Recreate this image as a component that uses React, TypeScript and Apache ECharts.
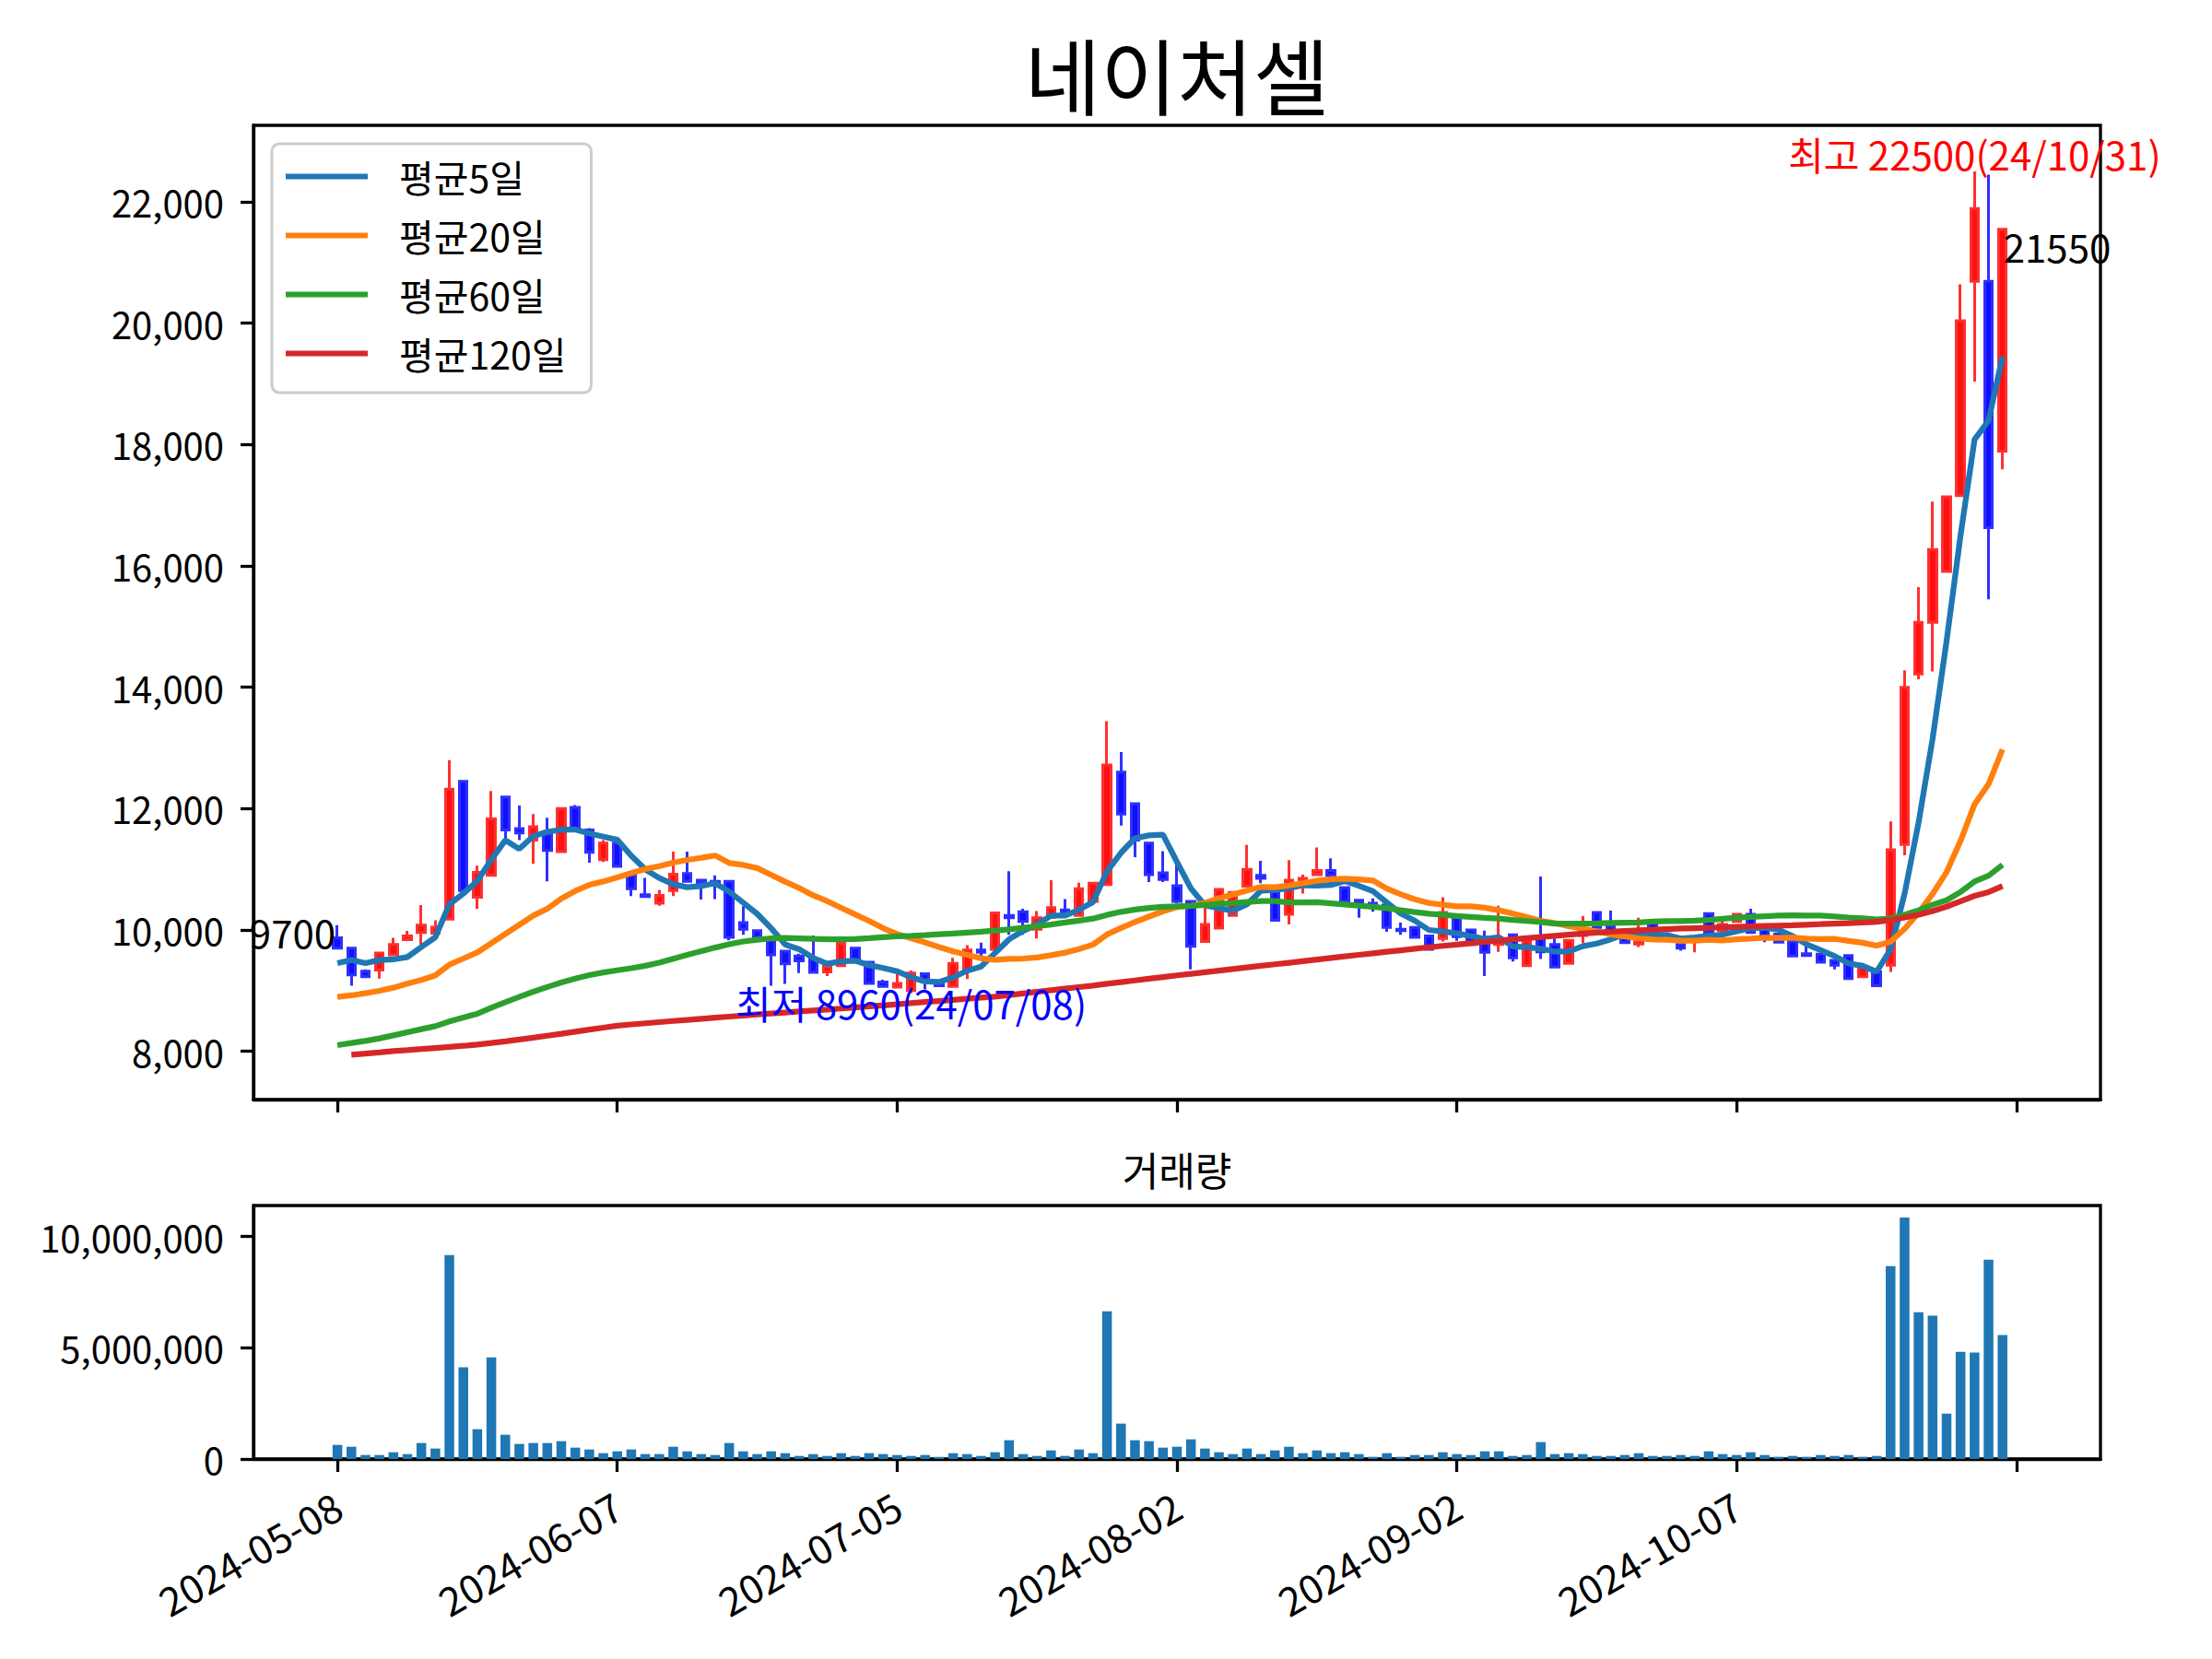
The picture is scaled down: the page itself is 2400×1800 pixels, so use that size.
import React, { useEffect, useRef } from 'react';
import * as echarts from 'echarts';

const dates = [
  '2024-05-08','2024-05-09','2024-05-10','2024-05-13','2024-05-14','2024-05-16','2024-05-17','2024-05-20','2024-05-21','2024-05-22',
  '2024-05-23','2024-05-24','2024-05-27','2024-05-28','2024-05-29','2024-05-30','2024-05-31','2024-06-03','2024-06-04','2024-06-05',
  '2024-06-07','2024-06-10','2024-06-11','2024-06-12','2024-06-13','2024-06-14','2024-06-17','2024-06-18','2024-06-19','2024-06-20',
  '2024-06-21','2024-06-24','2024-06-25','2024-06-26','2024-06-27','2024-06-28','2024-07-01','2024-07-02','2024-07-03','2024-07-04',
  '2024-07-05','2024-07-08','2024-07-09','2024-07-10','2024-07-11','2024-07-12','2024-07-15','2024-07-16','2024-07-17','2024-07-18',
  '2024-07-19','2024-07-22','2024-07-23','2024-07-24','2024-07-25','2024-07-26','2024-07-29','2024-07-30','2024-07-31','2024-08-01',
  '2024-08-02','2024-08-05','2024-08-06','2024-08-07','2024-08-08','2024-08-09','2024-08-12','2024-08-13','2024-08-14','2024-08-16',
  '2024-08-19','2024-08-20','2024-08-21','2024-08-22','2024-08-23','2024-08-26','2024-08-27','2024-08-28','2024-08-29','2024-08-30',
  '2024-09-02','2024-09-03','2024-09-04','2024-09-05','2024-09-06','2024-09-09','2024-09-10','2024-09-11','2024-09-12','2024-09-13',
  '2024-09-19','2024-09-20','2024-09-23','2024-09-24','2024-09-25','2024-09-26','2024-09-27','2024-09-30','2024-10-02','2024-10-04',
  '2024-10-07','2024-10-08','2024-10-10','2024-10-11','2024-10-14','2024-10-15','2024-10-16','2024-10-17','2024-10-18','2024-10-21',
  '2024-10-22','2024-10-23','2024-10-24','2024-10-25','2024-10-28','2024-10-29','2024-10-30','2024-10-31','2024-11-01','2024-11-04',
];

const opens = [
  9870, 9700, 9320, 9340, 9590, 9840, 9960, 9945, 10180, 12450,
  10540, 10900, 12190, 11670, 11480, 11580, 11290, 12020, 11650, 11160,
  11430, 10900, 10580, 10440, 10650, 10930, 10820, 10800, 10800, 10120,
  9990, 9830, 9650, 9570, 9530, 9310, 9410, 9700, 9470, 9140,
  9060, 9000, 9280, 9150, 9070, 9350, 9670, 9680, 10240, 10300,
  10010, 10210, 10330, 10240, 10470, 10750, 12600, 12080, 11430, 10940,
  10730, 10470, 9810, 10030, 10240, 10720, 10900, 10640, 10260, 10800,
  10910, 10980, 10700, 10490, 10440, 10410, 10010, 10040, 9900, 9860,
  10200, 10000, 9880, 9760, 9920, 9410, 9860, 9760, 9450, 9910,
  10290, 10060, 9910, 9770, 10110, 10030, 9760, 9830, 10270, 9990,
  10140, 10260, 10010, 9930, 9810, 9610, 9600, 9500, 9580, 9230,
  9310, 9420, 11410, 14220, 15070, 15910, 17160, 20690, 20690, 17890,
];

const closes = [
  9700, 9260, 9230, 9620, 9760, 9900, 10080, 10045, 12320, 10650,
  10950, 11830, 11650, 11600, 11700, 11310, 12000, 11670, 11280, 11430,
  11050, 10680, 10550, 10570, 10920, 10800, 10780, 10780, 9880, 10010,
  9880, 9590, 9440, 9490, 9300, 9400, 9780, 9500, 9120, 9070,
  9120, 9290, 9150, 9080, 9450, 9670, 9630, 10280, 10200, 10140,
  10200, 10370, 10280, 10680, 10770, 12720, 11910, 11480, 10910, 10830,
  10470, 9730, 10090, 10670, 10620, 11000, 10850, 10160, 10820, 10850,
  10980, 10900, 10470, 10440, 10410, 10040, 9990, 9880, 9680, 10290,
  9890, 9760, 9630, 9830, 9540, 9820, 9640, 9390, 9830, 9980,
  10040, 9990, 9790, 9820, 9990, 9990, 9700, 9880, 9960, 10090,
  10260, 9960, 9910, 9800, 9570, 9580, 9470, 9420, 9200, 9380,
  9080, 11320, 14000, 15070, 16270, 17140, 20040, 21890, 16630, 21550,
];

const lows = [
  9690, 9080, 9210, 9200, 9580, 9830, 9760, 9935, 10160, 10650,
  10350, 10890, 11500, 11480, 11090, 10800, 11280, 11660, 11110, 11120,
  11040, 10560, 10550, 10400, 10560, 10790, 10500, 10510, 9830, 9920,
  9880, 9080, 9110, 9290, 9300, 9240, 9410, 9500, 9120, 9060,
  9050, 8960, 9020, 9080, 9070, 9190, 9540, 9680, 9920, 9920,
  9860, 10200, 10270, 10230, 10460, 10750, 11720, 11200, 10790, 10790,
  10440, 9350, 9800, 10020, 10230, 10700, 10770, 10160, 10090, 10600,
  10900, 10890, 10460, 10200, 10300, 9970, 9920, 9880, 9680, 9810,
  9820, 9760, 9240, 9640, 9480, 9410, 9520, 9390, 9450, 9780,
  10040, 9980, 9790, 9720, 9990, 9980, 9660, 9630, 9920, 9940,
  10130, 9950, 9800, 9800, 9570, 9570, 9470, 9350, 9200, 9220,
  9080, 9310, 11230, 14130, 14260, 15900, 17160, 19040, 15450, 17590,
];

const highs = [
  10080, 9720, 9350, 9630, 9870, 9985, 10410, 10160, 12800, 12460,
  11060, 12290, 12200, 12050, 11910, 11850, 12010, 12060, 11680, 11480,
  11440, 10900, 10860, 10660, 11290, 11290, 10830, 10900, 10800, 10390,
  9990, 9840, 9650, 9610, 9910, 9410, 9790, 9720, 9470, 9180,
  9270, 9330, 9300, 9150, 9540, 9750, 9790, 10290, 10970, 10350,
  10310, 10820, 10510, 10780, 10780, 13440, 12930, 12080, 11430, 11300,
  11100, 10470, 10490, 10680, 10640, 11400, 11140, 10650, 11150, 10910,
  11360, 11180, 10700, 10500, 10520, 10420, 10120, 10060, 9900, 10540,
  10200, 10000, 9990, 10400, 9930, 9820, 10880, 9860, 9830, 10230,
  10290, 10320, 9910, 10200, 10110, 10040, 9760, 9890, 10280, 10210,
  10270, 10350, 10010, 9930, 9810, 9760, 9600, 9510, 9580, 9390,
  9310, 11790, 14280, 15650, 17060, 17140, 20640, 22500, 22450, 21560,
];

const volumes = [
  635000, 552000, 180000, 180000, 304000, 221000, 718000, 470000, 9170000, 4120000,
  1340000, 4570000, 1090000, 677000, 718000, 718000, 801000, 511000, 428000, 262000,
  345000, 428000, 221000, 221000, 552000, 345000, 221000, 180000, 718000, 345000,
  221000, 345000, 262000, 138000, 221000, 138000, 262000, 138000, 262000, 221000,
  180000, 138000, 180000, 97000, 262000, 221000, 138000, 304000, 843000, 221000,
  138000, 387000, 138000, 428000, 262000, 6640000, 1590000, 843000, 801000, 511000,
  552000, 884000, 470000, 304000, 221000, 470000, 221000, 387000, 552000, 262000,
  387000, 262000, 304000, 221000, 97000, 262000, 97000, 180000, 180000, 304000,
  221000, 180000, 345000, 345000, 138000, 180000, 760000, 221000, 262000, 221000,
  138000, 138000, 180000, 262000, 138000, 138000, 180000, 138000, 345000, 221000,
  180000, 304000, 180000, 97000, 138000, 97000, 180000, 138000, 180000, 97000,
  138000, 8670000, 10850000, 6600000, 6440000, 2040000, 4820000, 4780000, 8960000, 5570000,
];

const ma5 = [
  9453, 9504, 9453, 9504, 9514, 9554, 9718, 9881, 10421, 10599,
  10809, 11159, 11480, 11336, 11546, 11618, 11652, 11656, 11592, 11538,
  11486, 11222, 10998, 10856, 10754, 10704, 10724, 10770, 10632, 10450,
  10266, 10028, 9760, 9682, 9540, 9444, 9482, 9494, 9420, 9374,
  9318, 9220, 9150, 9142, 9218, 9328, 9396, 9622, 9846, 9984,
  10090, 10238, 10238, 10334, 10460, 10964, 11272, 11512, 11558, 11570,
  11120, 10684, 10406, 10358, 10316, 10422, 10646, 10660, 10690, 10736,
  10732, 10742, 10804, 10728, 10640, 10452, 10270, 10152, 10000, 9976,
  9946, 9900, 9850, 9880, 9730, 9716, 9692, 9644, 9644, 9732,
  9776, 9846, 9926, 9924, 9926, 9916, 9858, 9876, 9904, 9924,
  9978, 10030, 10036, 10004, 9900, 9764, 9666, 9568, 9448, 9410,
  9310, 9680, 10596, 11770, 13148, 14760, 16504, 18082, 18394, 19450,
];

const ma20 = [
  8896, 8922, 8957, 8998, 9048, 9114, 9175, 9251, 9428, 9529,
  9630, 9782, 9934, 10086, 10238, 10349, 10516, 10643, 10744, 10799,
  10867, 10938, 11004, 11051, 11109, 11154, 11189, 11226, 11104, 11072,
  11019, 10907, 10796, 10691, 10571, 10475, 10364, 10256, 10148, 10030,
  9933, 9864, 9794, 9719, 9646, 9589, 9532, 9507, 9523, 9529,
  9545, 9584, 9626, 9686, 9759, 9925, 10032, 10131, 10220, 10308,
  10376, 10398, 10445, 10524, 10583, 10649, 10710, 10704, 10735, 10771,
  10810, 10836, 10846, 10834, 10816, 10682, 10586, 10506, 10444, 10417,
  10388, 10390, 10367, 10325, 10271, 10212, 10151, 10113, 10063, 10020,
  9973, 9927, 9893, 9862, 9841, 9839, 9824, 9824, 9838, 9828,
  9847, 9857, 9871, 9869, 9871, 9859, 9850, 9852, 9820, 9790,
  9741, 9808, 10018, 10281, 10595, 10952, 11469, 12070, 12403, 12976,
];

const ma60 = [
  8101, 8137, 8172, 8213, 8263, 8314, 8365, 8415, 8491, 8557,
  8618, 8719, 8810, 8896, 8982, 9060, 9135, 9200, 9255, 9300,
  9335, 9370, 9410, 9460, 9525, 9590, 9650, 9710, 9765, 9810,
  9840, 9862, 9870, 9862, 9852, 9846, 9846, 9850, 9864, 9880,
  9895, 9905, 9916, 9930, 9940, 9955, 9970, 9990, 10010, 10035,
  10061, 10090, 10122, 10155, 10187, 10248, 10299, 10335, 10362, 10380,
  10390, 10398, 10412, 10430, 10444, 10462, 10475, 10477, 10452, 10455,
  10456, 10440, 10420, 10401, 10380, 10358, 10325, 10295, 10268, 10249,
  10230, 10215, 10199, 10187, 10164, 10148, 10129, 10106, 10105, 10104,
  10107, 10114, 10120, 10125, 10137, 10147, 10145, 10152, 10166, 10183,
  10202, 10213, 10226, 10238, 10240, 10238, 10236, 10221, 10205, 10192,
  10173, 10189, 10251, 10324, 10416, 10490, 10625, 10799, 10894, 11073,
];

const ma120 = [
  null, 7944, 7962, 7983, 8005, 8020, 8037, 8055, 8072, 8090,
  8111, 8137, 8165, 8195, 8225, 8257, 8289, 8323, 8357, 8390,
  8423, 8443, 8462, 8481, 8500, 8518, 8536, 8554, 8572, 8590,
  8607, 8624, 8640, 8656, 8672, 8688, 8705, 8722, 8740, 8758,
  8776, 8794, 8812, 8830, 8848, 8866, 8884, 8902, 8928, 8954,
  8980, 9006, 9032, 9058, 9084, 9112, 9140, 9168, 9196, 9224,
  9252, 9278, 9304, 9330, 9356, 9382, 9408, 9434, 9460, 9486,
  9512, 9538, 9564, 9590, 9615, 9640, 9665, 9690, 9715, 9738,
  9760, 9782, 9803, 9824, 9845, 9865, 9885, 9904, 9922, 9940,
  9956, 9971, 9984, 9996, 10006, 10015, 10023, 10030, 10037, 10044,
  10051, 10058, 10065, 10072, 10079, 10087, 10095, 10104, 10113, 10123,
  10134, 10160, 10205, 10250, 10312, 10384, 10473, 10562, 10624, 10722,
];

const priceTicks = [8000, 10000, 12000, 14000, 16000, 18000, 20000, 22000];
const volumeTicks = [0, 5000000, 10000000];
const maNames = ['평균5일', '평균20일', '평균60일', '평균120일'];
const maColors = ['#1f77b4', '#ff7f0e', '#2ca02c', '#d62728'];
const stockName = '네이처셀';
const volumeTitle = '거래량';

const FONT = '"Noto Sans CJK KR", "Noto Sans", sans-serif';
const PAD_L = 6;
const PAD_R = 7;
const TICK_STEP = 20;

export default function App() {
  const ref = useRef<HTMLDivElement>(null);

  useEffect(() => {
    document.body.style.margin = '0';
    const chart = echarts.init(ref.current as HTMLDivElement, null, { renderer: 'svg' });

    const cats = [
      ...Array.from({ length: PAD_L }, (_, k) => `_l${k}`),
      ...dates,
      ...Array.from({ length: PAD_R }, (_, k) => `_r${k}`),
    ];
    const padArr = (arr: any[]) => [...Array(PAD_L).fill('-'), ...arr.map((v) => (v == null ? '-' : v))];
    const candleData = [
      ...Array.from({ length: PAD_L }, () => ['-', '-', '-', '-']),
      ...dates.map((_, i) => [opens[i], closes[i], lows[i], highs[i]]),
    ];

    const n = dates.length;
    let maxI = 0;
    let minI = 0;
    for (let i = 0; i < n; i++) {
      if (highs[i] > highs[maxI]) maxI = i;
      if (lows[i] < lows[minI]) minI = i;
    }
    const shortDate = (d: string) => d.slice(2).replace(/-/g, '/');
    const tickOn = (idx: number) => idx >= PAD_L && (idx - PAD_L) % TICK_STEP === 0;
    const volMax = Math.max(...volumes) * 1.05;
    const priceMin = 7205;
    const priceMax = 23261;

    const mp = (i: number, value: number, text: string, color: string, align: string, offset: number[]) => ({
      coord: [dates[i], value],
      symbol: 'circle',
      symbolSize: 1,
      itemStyle: { color: 'rgba(0,0,0,0)' },
      label: {
        show: true,
        formatter: text,
        position: 'inside',
        align,
        verticalAlign: 'middle',
        offset,
        color,
        fontSize: 42,
        fontFamily: FONT,
      },
    });

    const tickStyle = { show: true, length: 14, lineStyle: { color: '#000', width: 3.3 } };
    const labelBase = { color: '#000', fontSize: 40, fontFamily: FONT };

    chart.setOption({
      animation: false,
      backgroundColor: '#ffffff',
      textStyle: { fontFamily: FONT },
      graphic: [
        {
          type: 'text',
          x: 1277,
          y: 79,
          style: { text: stockName, fill: '#000', font: `90px ${FONT}`, textAlign: 'center', textVerticalAlign: 'middle' },
        },
        {
          type: 'text',
          x: 1277,
          y: 1268,
          style: { text: volumeTitle, fill: '#000', font: `43px ${FONT}`, textAlign: 'center', textVerticalAlign: 'middle' },
        },
      ],
      legend: {
        data: maNames,
        orient: 'vertical',
        left: 295,
        top: 156,
        icon: 'rect',
        itemWidth: 89,
        itemHeight: 6,
        itemGap: 23,
        padding: [15, 27, 22, 15],
        borderColor: '#cccccc',
        borderWidth: 3,
        borderRadius: 8,
        backgroundColor: 'rgba(255,255,255,0.8)',
        selectedMode: false,
        textStyle: { fontSize: 41, fontFamily: FONT, color: '#000', lineHeight: 40, padding: [0, 0, 0, 29] },
      },
      grid: [
        { left: 275, top: 136, width: 2004, height: 1057, show: true, borderColor: '#000', borderWidth: 3.3, backgroundColor: 'rgba(0,0,0,0)' },
        { left: 275, top: 1308, width: 2004, height: 275, show: true, borderColor: '#000', borderWidth: 3.3, backgroundColor: 'rgba(0,0,0,0)' },
      ],
      xAxis: [
        {
          type: 'category',
          gridIndex: 0,
          data: cats,
          boundaryGap: false,
          axisLine: { show: true, lineStyle: { color: '#000', width: 3.3 } },
          axisTick: { ...tickStyle, interval: (idx: number) => tickOn(idx) },
          axisLabel: { show: false },
          splitLine: { show: false },
        },
        {
          type: 'category',
          gridIndex: 1,
          data: cats,
          boundaryGap: false,
          axisLine: { show: true, lineStyle: { color: '#000', width: 3.3 } },
          axisTick: { ...tickStyle, interval: (idx: number) => tickOn(idx) },
          axisLabel: {
            ...labelBase,
            fontSize: 43,
            interval: (idx: number) => tickOn(idx),
            rotate: 30,
            margin: 46,
            formatter: (v: string) => (v.startsWith('_') ? '' : v),
          },
          splitLine: { show: false },
        },
      ],
      yAxis: [
        {
          type: 'value',
          gridIndex: 0,
          min: priceMin,
          max: priceMax,
          axisLine: { show: true, lineStyle: { color: '#000', width: 3.3 } },
          axisTick: { ...tickStyle, customValues: priceTicks },
          axisLabel: { ...labelBase, margin: 32, customValues: priceTicks, formatter: (v: number) => v.toLocaleString('en-US') },
          splitLine: { show: false },
        },
        {
          type: 'value',
          gridIndex: 1,
          min: 0,
          max: volMax,
          axisLine: { show: true, lineStyle: { color: '#000', width: 3.3 } },
          axisTick: { ...tickStyle, customValues: volumeTicks },
          axisLabel: { ...labelBase, margin: 32, customValues: volumeTicks, formatter: (v: number) => v.toLocaleString('en-US') },
          splitLine: { show: false },
        },
      ],
      series: [
        {
          type: 'candlestick',
          xAxisIndex: 0,
          yAxisIndex: 0,
          data: candleData,
          barWidth: 9,
          itemStyle: {
            color: '#ff1010',
            color0: '#1010ff',
            borderColor: '#ff3030',
            borderColor0: '#3030ff',
            borderWidth: 3,
          },
          markPoint: {
            silent: true,
            data: [
              mp(0, closes[0], String(closes[0]), '#000', 'right', [-2, -18]),
              mp(n - 1, closes[n - 1], String(closes[n - 1]), '#000', 'left', [1, 18]),
              mp(maxI, highs[maxI], `최고 ${highs[maxI]}(${shortDate(dates[maxI])})`, '#ff0000', 'center', [0, -20]),
              mp(minI, lows[minI], `최저 ${lows[minI]}(${shortDate(dates[minI])})`, '#0000ff', 'center', [0, 10]),
            ],
          },
        },
        ...[ma5, ma20, ma60, ma120].map((arr, k) => ({
          type: 'line',
          name: maNames[k],
          xAxisIndex: 0,
          yAxisIndex: 0,
          data: padArr(arr),
          symbol: 'none',
          showSymbol: false,
          color: maColors[k],
          lineStyle: { color: maColors[k], width: 6.25 },
          itemStyle: { color: maColors[k] },
        })),
        {
          type: 'bar',
          name: volumeTitle,
          xAxisIndex: 1,
          yAxisIndex: 1,
          data: padArr(volumes),
          barWidth: 10.5,
          itemStyle: { color: '#1f77b4' },
        },
      ],
    });

    return () => {
      chart.dispose();
    };
  }, []);

  return <div ref={ref} style={{ width: 2400, height: 1800 }} />;
}
